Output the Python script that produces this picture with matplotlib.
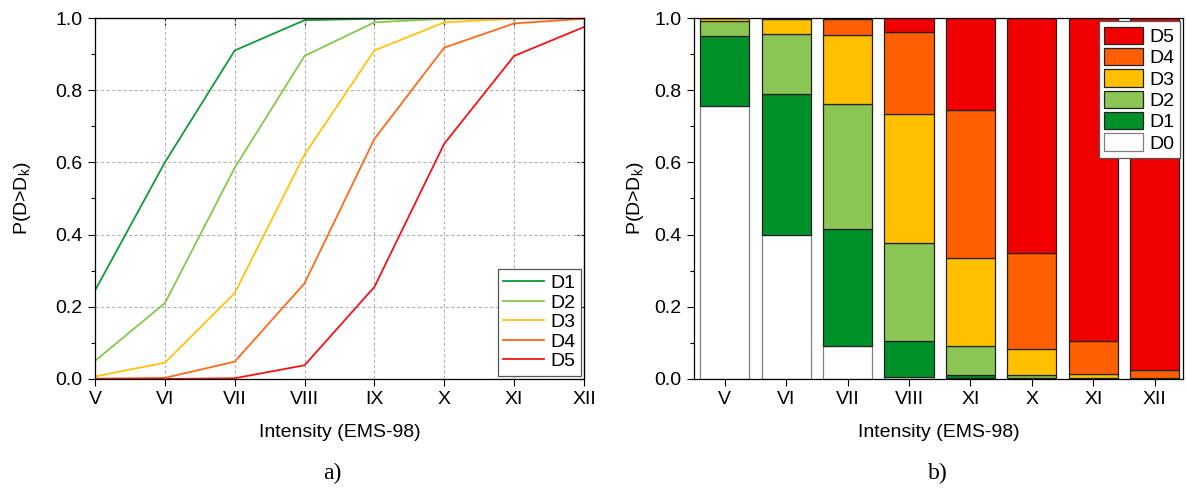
import numpy as np
import matplotlib
matplotlib.use("Agg")
import matplotlib.pyplot as plt
from matplotlib.ticker import MultipleLocator

plt.rcParams['font.family'] = ['Liberation Sans', 'DejaVu Sans']
plt.rcParams['font.size'] = 14
plt.rcParams['mathtext.fontset'] = 'custom'
plt.rcParams['mathtext.rm'] = 'Liberation Sans'
plt.rcParams['mathtext.it'] = 'Liberation Sans'

# Intensidades
intensidades = ["V", "VI", "VII", "VIII", "IX", "X", "XI", "XII"]
etiquetas_b = ["V", "VI", "VII", "VIII", "XI", "X", "XI", "XII"]

# P(D >= Dk) por estado de daño
p_d1 = [0.245, 0.600, 0.910, 0.994, 0.998, 1.000, 1.000, 1.000]
p_d2 = [0.050, 0.210, 0.585, 0.895, 0.988, 0.998, 1.000, 1.000]
p_d3 = [0.007, 0.045, 0.238, 0.622, 0.910, 0.988, 0.998, 1.000]
p_d4 = [0.001, 0.003, 0.048, 0.265, 0.665, 0.918, 0.985, 0.998]
p_d5 = [0.000, 0.000, 0.002, 0.038, 0.255, 0.652, 0.895, 0.975]

estados = ["D1", "D2", "D3", "D4", "D5"]
col_lineas = ["#109a3a", "#86c64c", "#ffc20e", "#ff6a1a", "#f21414"]
col_barras = ["#ffffff", "#00902a", "#8bc553", "#ffc000", "#ff5f00", "#f00000"]

excedencia = np.array([p_d1, p_d2, p_d3, p_d4, p_d5])
# probabilidad de cada estado D0..D5
cum = np.vstack([np.ones(len(intensidades)), excedencia, np.zeros(len(intensidades))])
prob = cum[:-1] - cum[1:]

fig = plt.figure(figsize=(11.86, 4.88), dpi=100)
ax1 = fig.add_axes([0.0801, 0.2234, 0.4123, 0.7397])
ax2 = fig.add_axes([0.5852, 0.2234, 0.4123, 0.7397])

x = np.arange(len(intensidades))

# ---- a) curvas
for k in range(5):
    ax1.plot(x, excedencia[k], color=col_lineas[k], lw=1.3, label=estados[k])
ax1.set_xlim(0, 7)
ax1.set_ylim(0, 1)
ax1.set_xticks(x)
ax1.set_xticklabels(intensidades)
ax1.yaxis.set_major_locator(MultipleLocator(0.2))
ax1.yaxis.set_minor_locator(MultipleLocator(0.1))
ax1.grid(True, which='major', color='#b4b4b4', ls=(0, (3, 2)), lw=0.8)
ax1.tick_params(axis='both', which='major', direction='out', length=5, width=0.8, pad=4)
ax1.tick_params(axis='y', which='minor', direction='out', length=3, width=0.8)
ax1t = ax1.secondary_xaxis('top')
ax1t.set_xticks(x)
ax1t.tick_params(direction='in', length=5, labeltop=False)
ax1r = ax1.secondary_yaxis('right')
ax1r.set_yticks(np.arange(0, 1.01, 0.2))
ax1r.tick_params(direction='in', length=5, labelright=False)
ax1.set_xlabel("Intensity (EMS-98)", labelpad=11)
ax1.set_ylabel(r"P(D>D$_\mathrm{k}$)", labelpad=16)
leg1 = ax1.legend(loc='lower right', frameon=True, fancybox=False, edgecolor='#555555',
                  framealpha=1, handlelength=2.1, labelspacing=0.1, borderaxespad=0.15,
                  borderpad=0.3, handletextpad=0.3)
leg1.get_frame().set_linewidth(0.9)

# ---- b) barras apiladas
base = np.zeros(len(intensidades))
barras = []
for k in range(6):
    ec = '#808080' if k == 0 else '#222222'
    b = ax2.bar(x, prob[k], 0.8, bottom=base, color=col_barras[k], edgecolor=ec,
                linewidth=0.9, label="D%d" % k)
    barras.append(b)
    base = base + prob[k]
ax2.set_xlim(-0.5, 7.46)
ax2.set_ylim(0, 1)
ax2.set_xticks(x)
ax2.set_xticklabels(etiquetas_b)
ax2.yaxis.set_major_locator(MultipleLocator(0.2))
ax2.yaxis.set_minor_locator(MultipleLocator(0.1))
ax2.tick_params(axis='both', which='major', direction='out', length=5, width=0.8, pad=4)
ax2.tick_params(axis='y', which='minor', direction='out', length=3, width=0.8)
ax2.set_xlabel("Intensity (EMS-98)", labelpad=11)
ax2.set_ylabel(r"P(D>D$_\mathrm{k}$)", labelpad=6)
leg2 = ax2.legend(barras[::-1], ["D%d" % k for k in range(5, -1, -1)], loc='upper right',
                  frameon=True, fancybox=False, edgecolor='#555555', framealpha=1,
                  handlelength=2.0, handleheight=1.0, labelspacing=0.1,
                  borderaxespad=0.15, borderpad=0.3, handletextpad=0.3)
leg2.get_frame().set_linewidth(0.9)

for ax in (ax1, ax2):
    for s in ax.spines.values():
        s.set_linewidth(0.9)

fig.text(332 / 1186, 1 - 473 / 488, "a)", ha='center', va='center',
         family=['Liberation Serif'], fontsize=17)
fig.text(938 / 1186, 1 - 473 / 488, "b)", ha='center', va='center',
         family=['Liberation Serif'], fontsize=17)

fig.savefig("out.png", dpi=100)
